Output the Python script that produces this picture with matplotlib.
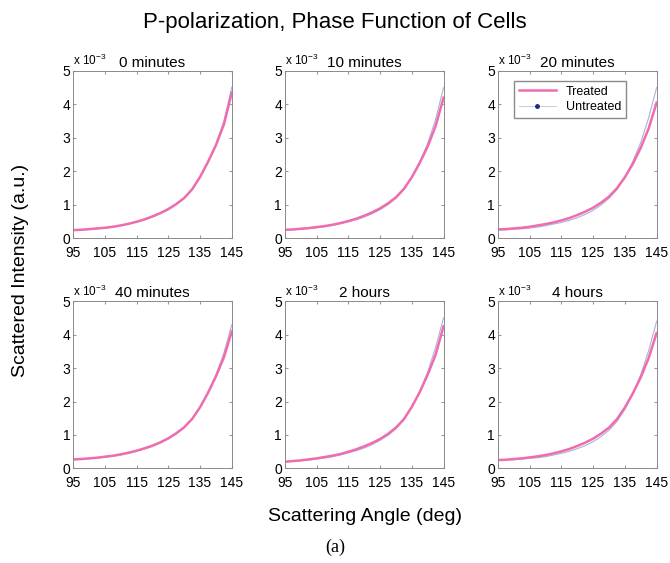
import numpy as np
import matplotlib
matplotlib.use("Agg")
import matplotlib.pyplot as plt
from matplotlib.lines import Line2D

plt.rcParams['font.family'] = ['Liberation Sans', 'DejaVu Sans']
plt.rcParams['mathtext.fontset'] = 'custom'
plt.rcParams['mathtext.rm'] = 'Liberation Sans'

# scattering angles (deg) and intensities in units of 1e-3
angles = [95, 97.5, 100, 102.5, 105, 107.5, 110, 112.5, 115, 117.5, 120,
          122.5, 125, 127.5, 130, 132.5, 135, 137.5, 140, 142.5, 145]

panel_titles = ["0 minutes", "10 minutes", "20 minutes", "40 minutes", "2 hours", "4 hours"]

treated = [
    [0.24, 0.25, 0.27, 0.29, 0.31, 0.34, 0.38, 0.43, 0.49, 0.56, 0.65,
     0.75, 0.87, 1.02, 1.20, 1.46, 1.83, 2.28, 2.78, 3.40, 4.35],
    [0.25, 0.26, 0.28, 0.30, 0.33, 0.36, 0.40, 0.45, 0.51, 0.58, 0.67,
     0.77, 0.89, 1.04, 1.22, 1.47, 1.82, 2.25, 2.74, 3.35, 4.20],
    [0.26, 0.27, 0.29, 0.31, 0.34, 0.38, 0.42, 0.47, 0.53, 0.60, 0.69,
     0.79, 0.91, 1.06, 1.24, 1.49, 1.82, 2.22, 2.70, 3.28, 4.05],
    [0.27, 0.28, 0.30, 0.32, 0.35, 0.38, 0.42, 0.47, 0.53, 0.60, 0.68,
     0.78, 0.90, 1.05, 1.23, 1.48, 1.83, 2.26, 2.75, 3.32, 4.10],
    [0.20, 0.22, 0.24, 0.27, 0.30, 0.34, 0.38, 0.43, 0.50, 0.57, 0.66,
     0.76, 0.88, 1.03, 1.22, 1.47, 1.84, 2.28, 2.80, 3.40, 4.25],
    [0.25, 0.26, 0.28, 0.30, 0.33, 0.36, 0.40, 0.45, 0.51, 0.58, 0.67,
     0.77, 0.89, 1.04, 1.22, 1.47, 1.82, 2.24, 2.72, 3.30, 4.05],
]
untreated = [
    [0.23, 0.24, 0.26, 0.28, 0.30, 0.33, 0.37, 0.42, 0.48, 0.55, 0.63,
     0.73, 0.85, 1.00, 1.19, 1.45, 1.82, 2.28, 2.82, 3.50, 4.52],
    [0.24, 0.25, 0.27, 0.29, 0.31, 0.34, 0.38, 0.43, 0.49, 0.55, 0.63,
     0.73, 0.85, 1.00, 1.19, 1.45, 1.82, 2.28, 2.83, 3.55, 4.50],
    [0.24, 0.25, 0.27, 0.28, 0.30, 0.33, 0.37, 0.42, 0.47, 0.53, 0.61,
     0.71, 0.83, 0.99, 1.19, 1.45, 1.82, 2.29, 2.86, 3.60, 4.50],
    [0.26, 0.27, 0.29, 0.31, 0.33, 0.36, 0.40, 0.45, 0.51, 0.58, 0.66,
     0.76, 0.88, 1.03, 1.22, 1.47, 1.83, 2.28, 2.80, 3.45, 4.30],
    [0.19, 0.21, 0.23, 0.25, 0.28, 0.31, 0.35, 0.40, 0.46, 0.53, 0.61,
     0.71, 0.84, 0.99, 1.18, 1.45, 1.83, 2.30, 2.88, 3.62, 4.50],
    [0.24, 0.25, 0.26, 0.28, 0.30, 0.32, 0.35, 0.40, 0.45, 0.51, 0.59,
     0.68, 0.80, 0.95, 1.14, 1.40, 1.76, 2.22, 2.80, 3.52, 4.40],
]

pink = '#ef6cae'
grayblue = '#aab3d6'

fig = plt.figure(figsize=(6.7, 5.63), dpi=100)

lefts = [0.109, 0.425, 0.743]
bottoms = [0.577, 0.168]
w, h = 0.237, 0.297

for i in range(6):
    r, c = divmod(i, 3)
    ax = fig.add_axes([lefts[c], bottoms[r], w, h])
    ax.plot(angles, untreated[i], color=grayblue, lw=0.8)
    ax.plot(angles, treated[i], color=pink, lw=1.8)
    ax.set_xlim(95, 145)
    ax.set_ylim(0, 5)
    ax.set_xticks([95, 105, 115, 125, 135, 145])
    ax.set_yticks([0, 1, 2, 3, 4, 5])
    ax.tick_params(direction='in', top=True, right=True, labelsize=10,
                   length=2.5, color='#999999')
    ax.tick_params(axis='x', pad=5.5)
    ax.tick_params(axis='y', pad=2)
    for s in ax.spines.values():
        s.set_color('#8a8a8a')
        s.set_linewidth(0.7)
    ax.text(0.0, 1.015, r"x 10$^{-3}$", transform=ax.transAxes, fontsize=8.5,
            ha='left', va='bottom')
    ax.set_title(panel_titles[i], fontsize=11, pad=3)
    if i == 2:
        handles = [Line2D([], [], color=pink, lw=1.8),
                   Line2D([], [], color='#c8cce0', lw=0.7, marker='.', ms=5,
                          markerfacecolor='#1a2a80', markeredgecolor='#1a2a80')]
        ax.legend(handles, ["Treated", "Untreated"], loc='upper left', fontsize=9,
                  fancybox=False, edgecolor='#8a8a8a', framealpha=1,
                  bbox_to_anchor=(0.06, 0.98), handlelength=3, borderpad=0.4,
                  labelspacing=0.3)

fig.text(0.5, 0.96, "P-polarization, Phase Function of Cells", ha='center',
         va='center', fontsize=16)
fig.text(0.03, 0.52, "Scattered Intensity (a.u.)", rotation=90, ha='center',
         va='center', fontsize=14)
fig.text(0.545, 0.082, "Scattering Angle (deg)", ha='center', va='center', fontsize=14)
fig.text(0.5, 0.027, "(a)", ha='center', va='center', fontsize=13,
         family='Liberation Serif')

fig.savefig("out.png", dpi=100)
